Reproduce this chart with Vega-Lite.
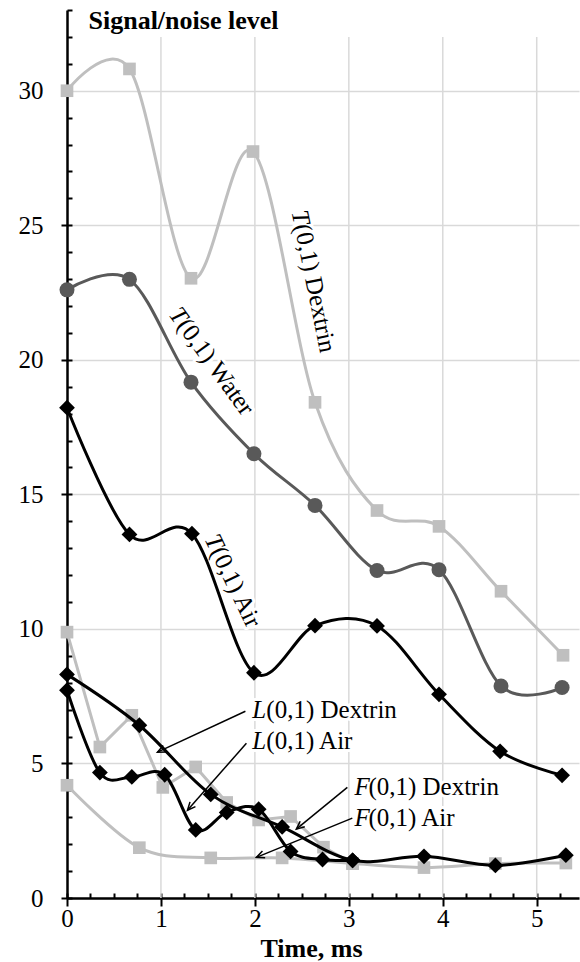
{
  "$schema": "https://vega.github.io/schema/vega-lite/v6.json",
  "width": 512,
  "height": 888,
  "autosize": {"type": "none"},
  "padding": {"left": 67, "top": 10, "right": 1, "bottom": 64},
  "background": "white",
  "config": {
    "view": {"stroke": null},
    "font": "Liberation Serif",
    "text": {"font": "Liberation Serif"}
  },
  "datasets": {
    "series": [
      {"s": "T Dextrin", "x": 0, "y": 30.0},
      {"s": "T Dextrin", "x": 0.665, "y": 30.81},
      {"s": "T Dextrin", "x": 1.32, "y": 23.03},
      {"s": "T Dextrin", "x": 1.98, "y": 27.74},
      {"s": "T Dextrin", "x": 2.64, "y": 18.42},
      {"s": "T Dextrin", "x": 3.30, "y": 14.40},
      {"s": "T Dextrin", "x": 3.96, "y": 13.81},
      {"s": "T Dextrin", "x": 4.62, "y": 11.40},
      {"s": "T Dextrin", "x": 5.28, "y": 9.02},
      {"s": "T Water", "x": 0, "y": 22.6},
      {"s": "T Water", "x": 0.665, "y": 22.99},
      {"s": "T Water", "x": 1.32, "y": 19.17},
      {"s": "T Water", "x": 1.99, "y": 16.51},
      {"s": "T Water", "x": 2.64, "y": 14.59},
      {"s": "T Water", "x": 3.30, "y": 12.17},
      {"s": "T Water", "x": 3.96, "y": 12.20},
      {"s": "T Water", "x": 4.62, "y": 7.88},
      {"s": "T Water", "x": 5.27, "y": 7.82},
      {"s": "T Air", "x": 0, "y": 18.22},
      {"s": "T Air", "x": 0.665, "y": 13.51},
      {"s": "T Air", "x": 1.33, "y": 13.54},
      {"s": "T Air", "x": 1.99, "y": 8.37},
      {"s": "T Air", "x": 2.64, "y": 10.12},
      {"s": "T Air", "x": 3.30, "y": 10.11},
      {"s": "T Air", "x": 3.96, "y": 7.57},
      {"s": "T Air", "x": 4.61, "y": 5.45},
      {"s": "T Air", "x": 5.27, "y": 4.56},
      {"s": "L Dextrin", "x": 0, "y": 9.88},
      {"s": "L Dextrin", "x": 0.35, "y": 5.61},
      {"s": "L Dextrin", "x": 0.69, "y": 6.79},
      {"s": "L Dextrin", "x": 1.02, "y": 4.11},
      {"s": "L Dextrin", "x": 1.37, "y": 4.87},
      {"s": "L Dextrin", "x": 1.70, "y": 3.55},
      {"s": "L Dextrin", "x": 2.04, "y": 2.90},
      {"s": "L Dextrin", "x": 2.38, "y": 3.03},
      {"s": "L Dextrin", "x": 2.73, "y": 1.89},
      {"s": "L Dextrin", "x": 3.04, "y": 1.28},
      {"s": "F Dextrin", "x": 0, "y": 4.19},
      {"s": "F Dextrin", "x": 0.77, "y": 1.87},
      {"s": "F Dextrin", "x": 1.53, "y": 1.49},
      {"s": "F Dextrin", "x": 2.29, "y": 1.49},
      {"s": "F Dextrin", "x": 3.04, "y": 1.28},
      {"s": "F Dextrin", "x": 3.80, "y": 1.13},
      {"s": "F Dextrin", "x": 4.56, "y": 1.28},
      {"s": "F Dextrin", "x": 5.31, "y": 1.30},
      {"s": "L Air", "x": 0, "y": 7.72},
      {"s": "L Air", "x": 0.35, "y": 4.66},
      {"s": "L Air", "x": 0.69, "y": 4.50},
      {"s": "L Air", "x": 1.04, "y": 4.58},
      {"s": "L Air", "x": 1.37, "y": 2.53},
      {"s": "L Air", "x": 1.70, "y": 3.18},
      {"s": "L Air", "x": 2.04, "y": 3.30},
      {"s": "L Air", "x": 2.38, "y": 1.73},
      {"s": "L Air", "x": 2.72, "y": 1.43},
      {"s": "L Air", "x": 3.04, "y": 1.40},
      {"s": "F Air", "x": 0, "y": 8.31},
      {"s": "F Air", "x": 0.77, "y": 6.42},
      {"s": "F Air", "x": 1.53, "y": 3.85},
      {"s": "F Air", "x": 2.29, "y": 2.64},
      {"s": "F Air", "x": 3.04, "y": 1.40},
      {"s": "F Air", "x": 3.80, "y": 1.55},
      {"s": "F Air", "x": 4.56, "y": 1.21},
      {"s": "F Air", "x": 5.31, "y": 1.59}
    ],
    "vgrid": [
      {"x": 1, "y": 0, "y2": 32},
      {"x": 2, "y": 0, "y2": 32},
      {"x": 3, "y": 0, "y2": 32},
      {"x": 4, "y": 0, "y2": 32},
      {"x": 5, "y": 0, "y2": 32}
    ],
    "labels": [
      {"label": "T Dextrin", "letter": "T", "rest": "(0,1) Dextrin", "x": 2.473, "y": 25.55},
      {"label": "T Water", "letter": "T", "rest": "(0,1) Water", "x": 1.144, "y": 21.86},
      {"label": "T Air", "letter": "T", "rest": "(0,1) Air", "x": 1.537, "y": 13.47},
      {"label": "L Dextrin", "letter": "L", "rest": "(0,1) Dextrin", "x": 1.973, "y": 6.97},
      {"label": "L Air", "letter": "L", "rest": "(0,1) Air", "x": 1.973, "y": 5.82},
      {"label": "F Dextrin", "letter": "F", "rest": "(0,1) Dextrin", "x": 3.059, "y": 4.11},
      {"label": "F Air", "letter": "F", "rest": "(0,1) Air", "x": 3.059, "y": 2.96}
    ],
    "arrows": [
      {"arrow": "L Dextrin", "x": 1.899, "y": 6.94, "x2": 0.963, "y2": 5.42},
      {"arrow": "L Air", "x": 1.910, "y": 5.75, "x2": 1.282, "y2": 3.26},
      {"arrow": "F Dextrin", "x": 2.984, "y": 4.11, "x2": 2.441, "y2": 2.56},
      {"arrow": "F Air", "x": 3.037, "y": 2.97, "x2": 2.016, "y2": 1.51}
    ]
  },
  "encoding": {
    "x": {"field": "x", "type": "quantitative", "scale": {"domain": [0, 5.45], "nice": false, "zero": false}, "axis": null},
    "y": {"field": "y", "type": "quantitative", "scale": {"domain": [0, 33], "nice": false, "zero": false}, "axis": null}
  },
  "layer": [
    {
      "data": {"name": "vgrid"},
      "mark": {"type": "rule", "color": "#d9d9d9", "strokeWidth": 1.5},
      "encoding": {
        "x": {"field": "x", "type": "quantitative", "scale": {"domain": [0, 5.45], "nice": false, "zero": false},
          "axis": {"values": [0, 1, 2, 3, 4, 5], "format": "d", "grid": false, "orient": "bottom",
            "domainColor": "#000000", "domainWidth": 2.5, "tickColor": "#000000", "tickWidth": 2, "tickSize": 8,
            "labelFont": "Liberation Serif", "labelFontSize": 25, "labelColor": "#000000", "labelPadding": 0, "labelFlush": false, "labelOverlap": false,
            "title": "Time, ms", "titleFont": "Liberation Serif", "titleFontSize": 26, "titleFontWeight": "bold", "titleColor": "#000000",
            "titleX": 244, "titleY": 58, "titleBaseline": "alphabetic", "titleAlign": "center"}},
        "y": {"field": "y", "type": "quantitative", "scale": {"domain": [0, 33], "nice": false, "zero": false},
          "axis": {"values": [0, 5, 10, 15, 20, 25, 30], "grid": true, "gridColor": "#d9d9d9", "gridWidth": 1.5, "orient": "left",
            "domainColor": "#000000", "domainWidth": 2.5, "tickColor": "#000000", "tickWidth": 2, "tickSize": 6,
            "labelFont": "Liberation Serif", "labelFontSize": 25, "labelColor": "#000000", "labelPadding": 18, "labelOverlap": false,
            "title": "Signal/noise level", "titleFont": "Liberation Serif", "titleFontSize": 26, "titleFontWeight": "bold", "titleColor": "#000000",
            "titleAngle": 0, "titleAlign": "left", "titleBaseline": "alphabetic", "titleX": 21, "titleY": 18}},
        "y2": {"field": "y2"}
      }
    },
    {
      "data": {"name": "labels"},
      "mark": {"type": "text", "align": "left", "baseline": "middle", "fontSize": 25, "fontStyle": "italic", "fill": "white", "stroke": "white", "strokeWidth": 6, "strokeJoin": "round"},
      "encoding": {
        "text": {"field": "letter"},
        "angle": {"condition": [
          {"test": "datum.label === 'T Dextrin'", "value": 78.5},
          {"test": "datum.label === 'T Water'", "value": 54},
          {"test": "datum.label === 'T Air'", "value": 64.5}], "value": 0}
      }
    },
    {
      "data": {"name": "labels"},
      "mark": {"type": "text", "align": "left", "baseline": "middle", "fontSize": 25, "dx": 14, "fill": "white", "stroke": "white", "strokeWidth": 6, "strokeJoin": "round"},
      "encoding": {
        "text": {"field": "rest"},
        "angle": {"condition": [
          {"test": "datum.label === 'T Dextrin'", "value": 78.5},
          {"test": "datum.label === 'T Water'", "value": 54},
          {"test": "datum.label === 'T Air'", "value": 64.5}], "value": 0}
      }
    },
    {
      "data": {"name": "labels"},
      "mark": {"type": "text", "align": "left", "baseline": "middle", "fontSize": 25, "fontStyle": "italic", "color": "#000000"},
      "encoding": {
        "text": {"field": "letter"},
        "angle": {"condition": [
          {"test": "datum.label === 'T Dextrin'", "value": 78.5},
          {"test": "datum.label === 'T Water'", "value": 54},
          {"test": "datum.label === 'T Air'", "value": 64.5}], "value": 0}
      }
    },
    {
      "data": {"name": "labels"},
      "mark": {"type": "text", "align": "left", "baseline": "middle", "fontSize": 25, "dx": 14, "color": "#000000"},
      "encoding": {
        "text": {"field": "rest"},
        "angle": {"condition": [
          {"test": "datum.label === 'T Dextrin'", "value": 78.5},
          {"test": "datum.label === 'T Water'", "value": 54},
          {"test": "datum.label === 'T Air'", "value": 64.5}], "value": 0}
      }
    },
    {
      "data": {"name": "series"},
      "transform": [{"filter": {"field": "s", "oneOf": ["T Dextrin", "T Water", "F Dextrin"]}}],
      "mark": {"type": "line", "interpolate": "cardinal", "strokeWidth": 3},
      "encoding": {
        "color": {"field": "s", "type": "nominal", "legend": null,
          "scale": {"domain": ["T Dextrin", "T Water", "T Air", "L Dextrin", "F Dextrin", "L Air", "F Air"],
            "range": ["#bfbfbf", "#595959", "#000000", "#bfbfbf", "#bfbfbf", "#000000", "#000000"]}}
      }
    },
    {
      "data": {"name": "series"},
      "transform": [{"filter": {"field": "s", "equal": "L Dextrin"}}],
      "mark": {"type": "line", "interpolate": "linear", "strokeWidth": 3, "color": "#bfbfbf"},
      "encoding": {}
    },
    {
      "data": {"name": "series"},
      "transform": [{"filter": {"field": "s", "oneOf": ["T Dextrin", "T Water", "L Dextrin", "F Dextrin"]}}],
      "mark": {"type": "point", "filled": true, "opacity": 1},
      "encoding": {
        "color": {"field": "s", "type": "nominal", "legend": null,
          "scale": {"domain": ["T Dextrin", "T Water", "T Air", "L Dextrin", "F Dextrin", "L Air", "F Air"],
            "range": ["#bfbfbf", "#595959", "#000000", "#bfbfbf", "#bfbfbf", "#000000", "#000000"]}},
        "shape": {"field": "s", "type": "nominal", "legend": null,
          "scale": {"domain": ["T Dextrin", "T Water", "T Air", "L Dextrin", "F Dextrin", "L Air", "F Air"],
            "range": ["square", "circle", "diamond", "square", "square", "diamond", "diamond"]}},
        "size": {"condition": {"test": "datum.s === 'T Water'", "value": 225}, "value": 160}
      }
    },
    {
      "data": {"name": "series"},
      "transform": [{"filter": {"field": "s", "oneOf": ["T Air", "L Air", "F Air"]}}],
      "mark": {"type": "line", "interpolate": "cardinal", "strokeWidth": 3, "color": "#000000"},
      "encoding": {"detail": {"field": "s", "type": "nominal"}}
    },
    {
      "data": {"name": "series"},
      "transform": [{"filter": {"field": "s", "oneOf": ["T Air", "L Air", "F Air"]}}],
      "mark": {"type": "point", "filled": true, "opacity": 1, "shape": "diamond", "size": 250, "color": "#000000"},
      "encoding": {}
    },
    {
      "data": {"name": "arrows"},
      "mark": {"type": "rule", "color": "#000000", "strokeWidth": 1.5},
      "encoding": {"x2": {"field": "x2"}, "y2": {"field": "y2"}}
    },
    {
      "data": {"name": "arrows"},
      "mark": {"type": "point", "filled": false, "opacity": 1, "color": "#000000", "strokeWidth": 1.5, "size": 256,
        "shape": "M -1 -0.45 L 0 0 L -1 0.45"},
      "encoding": {
        "x": {"field": "x2", "type": "quantitative", "scale": {"domain": [0, 5.45], "nice": false, "zero": false}, "axis": null},
        "y": {"field": "y2", "type": "quantitative", "scale": {"domain": [0, 33], "nice": false, "zero": false}, "axis": null},
        "angle": {"condition": [
          {"test": "datum.arrow === 'L Dextrin'", "value": 155},
          {"test": "datum.arrow === 'L Air'", "value": 131.4},
          {"test": "datum.arrow === 'F Dextrin'", "value": 140.5}], "value": 157.9}
      }
    },
    {
      "data": {"name": "vgrid"},
      "mark": {"type": "point", "opacity": 0},
      "encoding": {
        "x": {"field": "x", "type": "quantitative", "scale": {"domain": [0, 5.45], "nice": false, "zero": false},
          "axis": {"values": [0, 0.25, 0.5, 0.75, 1, 1.25, 1.5, 1.75, 2, 2.25, 2.5, 2.75, 3, 3.25, 3.5, 3.75, 4, 4.25, 4.5, 4.75, 5, 5.25],
            "orient": "bottom", "labels": false, "domain": false, "grid": false, "tickSize": -5, "tickColor": "#000000", "tickWidth": 2, "title": null}},
        "y": {"field": "y", "type": "quantitative", "scale": {"domain": [0, 33], "nice": false, "zero": false},
          "axis": {"values": [0, 1, 2, 3, 4, 5, 6, 7, 8, 9, 10, 11, 12, 13, 14, 15, 16, 17, 18, 19, 20, 21, 22, 23, 24, 25, 26, 27, 28, 29, 30, 31, 32, 33],
            "orient": "left", "labels": false, "domain": false, "grid": false, "tickSize": -5, "tickColor": "#000000", "tickWidth": 2, "title": null}}
      }
    }
  ],
  "resolve": {"axis": {"x": "independent", "y": "independent"}}
}
